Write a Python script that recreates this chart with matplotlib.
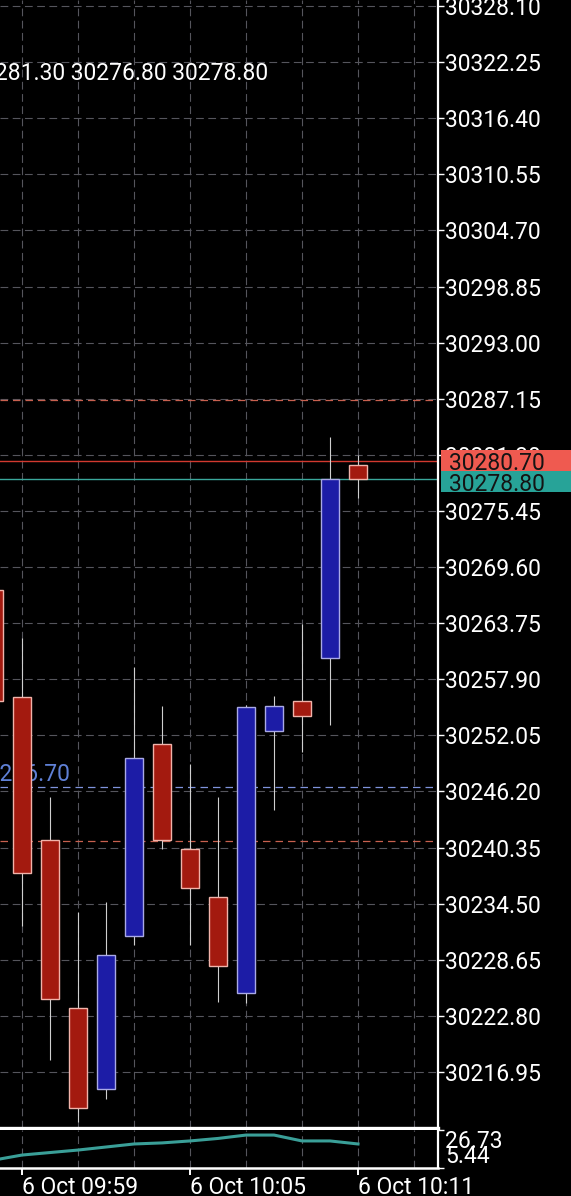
import matplotlib

matplotlib.use("Agg")
import matplotlib.pyplot as plt
from matplotlib.patches import Rectangle
from matplotlib.transforms import blended_transform_factory

# one-minute bars, 09:58 .. 10:11
TIMES = ["09:58", "09:59", "10:00", "10:01", "10:02", "10:03", "10:04",
         "10:05", "10:06", "10:07", "10:08", "10:09", "10:10", "10:11"]
OPEN = [30267.2, 30256.1, 30241.1, 30223.6, 30215.2, 30231.1, 30251.1,
        30240.2, 30235.2, 30225.2, 30252.5, 30255.6, 30260.1, 30280.2]
HIGH = [30270.0, 30262.2, 30245.6, 30233.6, 30234.7, 30259.2, 30255.1,
        30249.1, 30245.6, 30255.2, 30256.2, 30263.7, 30283.2, 30281.3]
LOW = [30253.0, 30232.2, 30218.2, 30211.7, 30214.1, 30230.2, 30240.2,
       30230.2, 30224.2, 30224.1, 30244.3, 30250.3, 30253.1, 30276.8]
CLOSE = [30255.6, 30237.7, 30224.6, 30213.2, 30229.1, 30249.7, 30241.1,
         30236.1, 30228.0, 30255.0, 30255.1, 30254.1, 30278.8, 30278.8]

# indicator sub-window
IND = [9.9, 12.7, 14.1, 15.5, 17.2, 18.9, 19.5, 20.6, 22.0, 23.9, 23.9,
       20.6, 20.6, 18.9]
IND_MIN, IND_MAX = 5.44, 26.73

PRICE_TICKS = [30328.10, 30322.25, 30316.40, 30310.55, 30304.70, 30298.85,
               30293.00, 30287.15, 30281.30, 30275.45, 30269.60, 30263.75,
               30257.90, 30252.05, 30246.20, 30240.35, 30234.50, 30228.65,
               30222.80, 30216.95]
TIME_TICKS = [1, 7, 13]
TIME_LABELS = ["6 Oct 09:59", "6 Oct 10:05", "6 Oct 10:11"]
GRID_X = [1, 3, 5, 7, 9, 11, 13, 15]

ASK = 30280.70
BID = 30278.80
LEVEL_RED = [30287.00, 30241.00]
LEVEL_BLUE = 30246.70
OHLC_TEXT = "30280.20 30281.30 30276.80 30278.80"

YMIN, YMAX = 30211.11, 30328.73
XMIN, XMAX = 0.214, 15.857

BG = "#000000"
GRID = "#55555c"
UP_FILL, UP_EDGE = "#1c1ca6", "#a9a9e6"
DN_FILL, DN_EDGE = "#a31a0f", "#f1b3aa"
WICK = "#cfcfcf"
FS = 16.5

plt.rcParams["font.family"] = ["Roboto", "DejaVu Sans"]

W, H = 571, 1196
fig = plt.figure(figsize=(W / 100, H / 100), dpi=100, facecolor=BG)
ax = fig.add_axes([0, 68 / H, 438 / W, 1128 / H], facecolor=BG)
axi = fig.add_axes([0, 28 / H, 438 / W, 38 / H], facecolor=BG)

# grid
for x in GRID_X:
    for a in (ax, axi):
        a.axvline(x, color=GRID, lw=0.8, dashes=(7, 4), zorder=0)
for p in PRICE_TICKS:
    ax.axhline(p, color=GRID, lw=0.8, dashes=(7, 4), zorder=0)

# levels
for p in LEVEL_RED:
    ax.axhline(p, color="#c8604f", lw=0.9, dashes=(6, 4), zorder=1)
ax.axhline(LEVEL_BLUE, color="#7f93dc", lw=0.9, dashes=(6, 4), zorder=1)
ax.text(70 / 438, LEVEL_BLUE + 0.55, "%.2f" % LEVEL_BLUE, color="#5f80d6",
        fontsize=FS, ha="right", va="baseline", zorder=1,
        transform=blended_transform_factory(ax.transAxes, ax.transData))
ax.axhline(ASK, color="#d2392f", lw=1.0, zorder=1)
ax.axhline(BID, color="#3aa89c", lw=1.0, zorder=1)

# candles
idx = list(range(len(TIMES)))
ax.vlines(idx, LOW, HIGH, color=WICK, lw=0.8, zorder=2)
bottoms = [min(o, c) for o, c in zip(OPEN, CLOSE)]
heights = [abs(c - o) for o, c in zip(OPEN, CLOSE)]
fills = [UP_FILL if c > o else DN_FILL for o, c in zip(OPEN, CLOSE)]
edges = [UP_EDGE if c > o else DN_EDGE for o, c in zip(OPEN, CLOSE)]
ax.bar(idx, heights, bottom=bottoms, width=0.66, color=fills,
       edgecolor=edges, linewidth=1.0, zorder=3)

ax.text(268 / 438, 1 - 74 / 1128, OHLC_TEXT, color="white", fontsize=FS,
        ha="right", va="center", transform=ax.transAxes)

ax.set_xlim(XMIN, XMAX)
ax.set_ylim(YMIN, YMAX)
ax.set_xticks([])
ax.yaxis.tick_right()
ax.set_yticks(PRICE_TICKS)
ax.set_yticklabels(["%.2f" % p for p in PRICE_TICKS])
ax.tick_params(axis="y", colors="white", labelcolor="white", labelsize=FS,
               length=4, width=1, pad=1)
for s in ("top", "left"):
    ax.spines[s].set_visible(False)
ax.spines["right"].set(color="white", linewidth=1.6)
ax.spines["bottom"].set(color="white", linewidth=2.4)

# bid / ask boxes on the price scale
mix = blended_transform_factory(ax.transAxes, ax.transData)
unit = (YMAX - YMIN) / 1128.0
box_h = 21 * unit
for price, colour, centre in ((ASK, "#ef5a50", ASK),
                              (BID, "#27a398", ASK - box_h)):
    ax.add_patch(Rectangle((441 / 438, centre - box_h / 2), 130 / 438, box_h,
                           transform=mix, facecolor=colour, edgecolor="none",
                           clip_on=False, zorder=6))
    ax.text(449 / 438, centre, "%.2f" % price, transform=mix, color="#141414",
            fontsize=FS, ha="left", va="center_baseline", clip_on=False,
            zorder=7)

# indicator window
axi.plot(idx, IND, color="#3a9f98", lw=2.2, zorder=2)
axi.set_xlim(XMIN, XMAX)
axi.set_ylim(IND_MIN, IND_MAX)
axi.yaxis.tick_right()
axi.set_yticks([IND_MAX, IND_MIN])
axi.set_yticklabels(["%.2f" % IND_MAX, "%.2f" % IND_MIN])
axi.tick_params(axis="y", colors="white", labelcolor="white", labelsize=FS,
                length=4, width=1, pad=1)
labels = axi.get_yticklabels()
labels[0].set_va("top")
labels[1].set_va("bottom")
axi.set_xticks(TIME_TICKS)
axi.set_xticklabels(TIME_LABELS, ha="left")
axi.tick_params(axis="x", colors="white", labelcolor="white", labelsize=FS,
                length=5, width=1.4, pad=1)
for s in ("top", "left"):
    axi.spines[s].set_visible(False)
axi.spines["right"].set(color="white", linewidth=1.6)
axi.spines["bottom"].set(color="white", linewidth=1.8)

fig.savefig("out.png", dpi=100, facecolor=BG)
